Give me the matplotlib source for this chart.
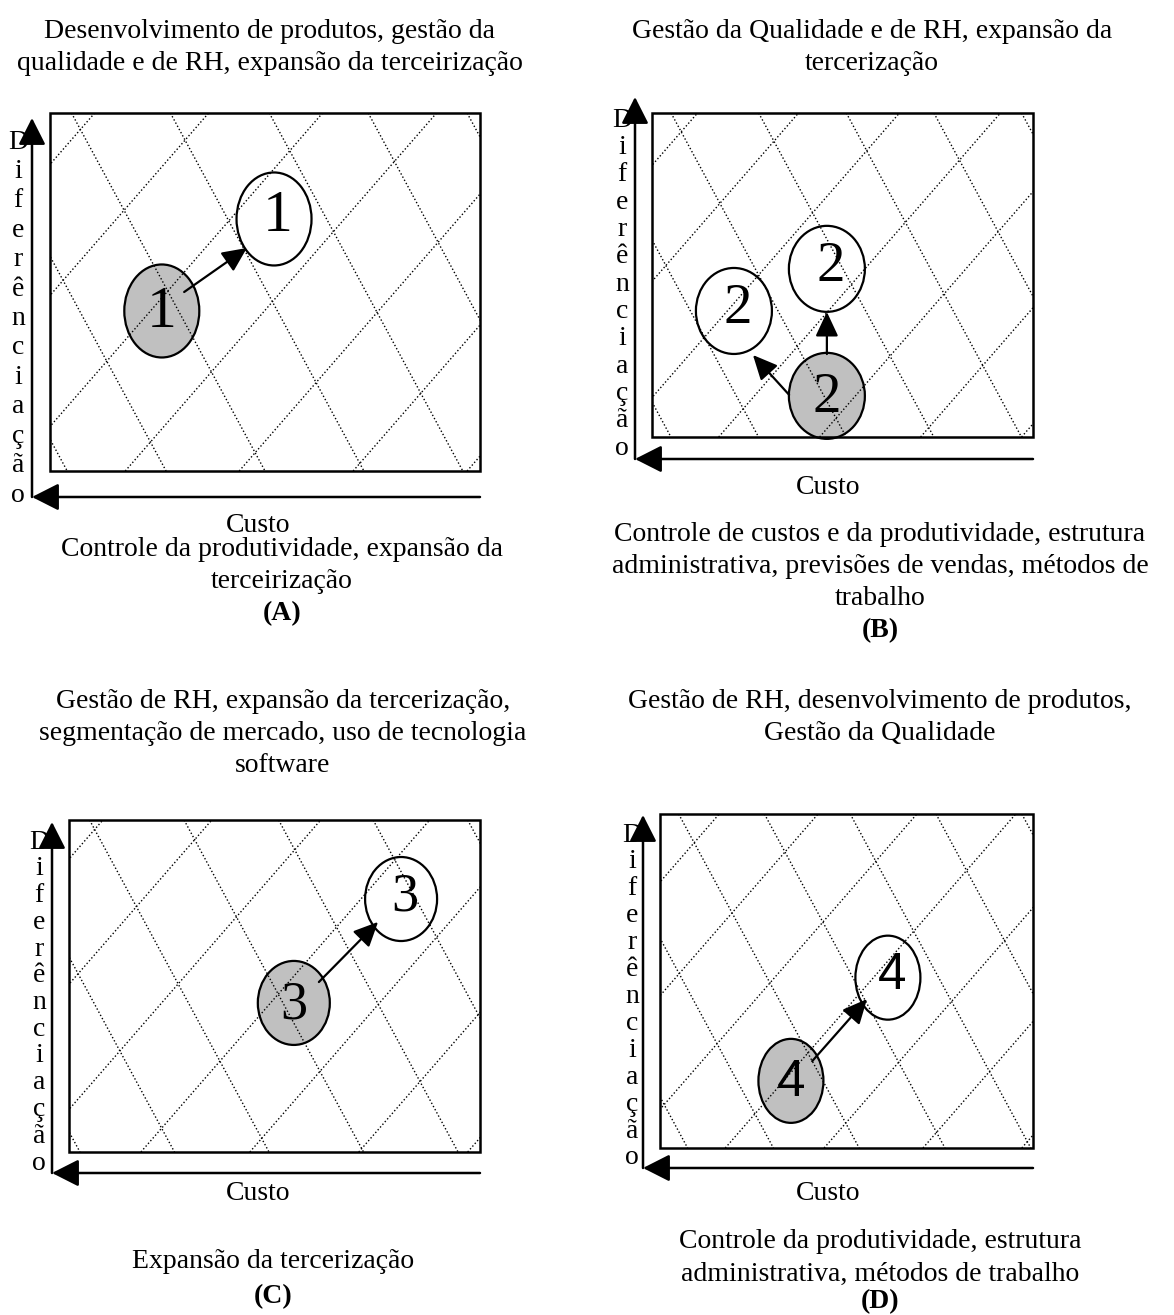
import numpy as np
import matplotlib.pyplot as plt
from matplotlib.patches import Ellipse, Rectangle

plt.rcParams['font.family'] = ['Liberation Serif', 'DejaVu Serif']

# ---- data -------------------------------------------------------------
panels = ['(A)', '(B)', '(C)', '(D)']
labels = ['1', '2', '3', '4']

top_text = [
    ["Desenvolvimento de produtos, gestão da",
     "qualidade e de RH, expansão da terceirização"],
    ["Gestão da Qualidade e de RH, expansão da",
     "tercerização"],
    ["Gestão de RH, expansão da tercerização,",
     "segmentação de mercado, uso de tecnologia",
     "software"],
    ["Gestão de RH, desenvolvimento de produtos,",
     "Gestão da Qualidade"],
]
bottom_text = [
    ["Controle da produtividade, expansão da",
     "terceirização"],
    ["Controle de custos e da produtividade, estrutura",
     "administrativa, previsões de vendas, métodos de",
     "trabalho"],
    ["Expansão da tercerização"],
    ["Controle da produtividade, estrutura",
     "administrativa, métodos de trabalho"],
]
y_label = "Diferênciação"
x_label = "Custo"

# current position (grey) and targets (white), as fractions of the box
current_x = [0.26, 0.459, 0.547, 0.351]
current_y = [0.447, 0.127, 0.449, 0.201]
target_x = [[0.521], [0.215, 0.459], [0.808], [0.611]]
target_y = [[0.704], [0.389, 0.519], [0.762], [0.51]]

# arrows: (x0, y0, x1, y1) as fractions of the box
arrows = [
    [(0.312, 0.50, 0.458, 0.623)],
    [(0.459, 0.256, 0.459, 0.386), (0.36, 0.13, 0.265, 0.253)],
    [(0.608, 0.512, 0.752, 0.693)],
    [(0.408, 0.26, 0.555, 0.446)],
]

# ---- layout (pixels) --------------------------------------------------
W, H = 1174, 1315
boxes = [(50, 113, 480, 471), (652, 113, 1033, 437),
         (69, 820, 480, 1152), (660, 814, 1033, 1148)]
ell_size = [(75, 93), (76, 86), (72, 84), (65, 84)]
axis_x = [32, 635, 52, 643]
axis_tip = [118, 97, 822, 815]
axis_y = [497, 459, 1173, 1168]
letter_x = [18, 622, 39, 632]
letter_top = [142, 120, 842, 835]
letter_bot = [495, 448, 1163, 1158]
custo_pos = [(258, 525), (828, 487), (258, 1194), (828, 1193)]
top_pos = [(270, 31), (872, 31), (283, 701), (880, 701)]
bottom_pos = [(282, 549), (880, 534), (273, 1262), (880, 1242)]
panel_y = [614, 631, 1297, 1302]
digit_size = [43, 41, 39, 37]
line_gap = 32
fs = 20

fig = plt.figure(figsize=(W / 100, H / 100), dpi=100)
ax = fig.add_axes([0, 0, 1, 1])
ax.set_xlim(0, W)
ax.set_ylim(H, 0)
ax.axis('off')


def px(box, fx, fy):
    l, t, r, b = box
    return l + fx * (r - l), b - fy * (b - t)


for i in range(4):
    box = boxes[i]
    l, t, r, b = box
    w, h = r - l, b - t

    frame = Rectangle((l, t), w, h, fill=False, ec='black', lw=1.8, zorder=6)
    ax.add_patch(frame)

    # dotted diagonal grid inside the box
    for k in range(-8, 10):
        x0 = l + (0.05 + 0.23 * k) * w
        ln, = ax.plot([x0, x0 + h / 1.85], [t, b], color='black', lw=1.0,
                      ls=(0, (1, 1.6)), zorder=3)
        ln.set_clip_path(frame)
        x0 = l + (0.175 + 0.265 * k) * w
        ln, = ax.plot([x0, x0 + h / 1.15], [b, t], color='black', lw=1.0,
                      ls=(0, (1, 1.6)), zorder=3)
        ln.set_clip_path(frame)

    ew, eh = ell_size[i]
    digit_font = 'Liberation Sans' if labels[i] == '4' else 'Liberation Serif'

    cx, cy = px(box, current_x[i], current_y[i])
    ax.add_patch(Ellipse((cx, cy), ew, eh, fc='#c0c0c0', ec='black', lw=1.6, zorder=2))
    ax.text(cx, cy + 2, labels[i], fontsize=digit_size[i], family=digit_font,
            ha='center', va='center', zorder=5)
    for tx, ty in zip(target_x[i], target_y[i]):
        cx, cy = px(box, tx, ty)
        ax.add_patch(Ellipse((cx, cy), ew, eh, fc='white', ec='black', lw=1.6, zorder=2))
        ax.text(cx + 4, cy - 2, labels[i], fontsize=digit_size[i], family=digit_font,
                ha='center', va='center', zorder=5)

    for x0, y0, x1, y1 in arrows[i]:
        ax.annotate('', xy=px(box, x1, y1), xytext=px(box, x0, y0),
                    arrowprops=dict(arrowstyle='-|>,head_length=0.75,head_width=0.35',
                                    mutation_scale=20, color='black', lw=1.6,
                                    shrinkA=0, shrinkB=0), zorder=7)

    # axes arrows
    ax.annotate('', xy=(axis_x[i], axis_tip[i]), xytext=(axis_x[i], axis_y[i]),
                arrowprops=dict(arrowstyle='-|>,head_length=0.75,head_width=0.38',
                                mutation_scale=22, color='black', lw=1.8,
                                shrinkA=0, shrinkB=0), zorder=7)
    ax.annotate('', xy=(axis_x[i], axis_y[i]), xytext=(r, axis_y[i]),
                arrowprops=dict(arrowstyle='-|>,head_length=0.75,head_width=0.38',
                                mutation_scale=22, color='black', lw=1.8,
                                shrinkA=0, shrinkB=0), zorder=7)

    # vertical axis label, one letter per row
    ys = np.linspace(letter_top[i], letter_bot[i], len(y_label))
    for ch, yy in zip(y_label, ys):
        ax.text(letter_x[i], yy, ch, fontsize=fs, ha='center', va='center')

    cxp, cyp = custo_pos[i]
    ct = ax.text(cxp, cyp, x_label, fontsize=fs, ha='center', va='center')
    if i == 0:
        # in the original the word is partly hidden behind the caption below
        clip = Rectangle((0, 0), W, 528, transform=ax.transData)
        ct.set_clip_path(clip)

    xt, yt = top_pos[i]
    for j, s in enumerate(top_text[i]):
        ax.text(xt, yt + j * line_gap, s, fontsize=fs, ha='center', va='center')

    xb, yb = bottom_pos[i]
    for j, s in enumerate(bottom_text[i]):
        ax.text(xb, yb + j * line_gap, s, fontsize=fs, ha='center', va='center')
    ax.text(xb, panel_y[i], panels[i], fontsize=fs, fontweight='bold',
            ha='center', va='center')

fig.savefig('out.png', dpi=100, facecolor='white')
